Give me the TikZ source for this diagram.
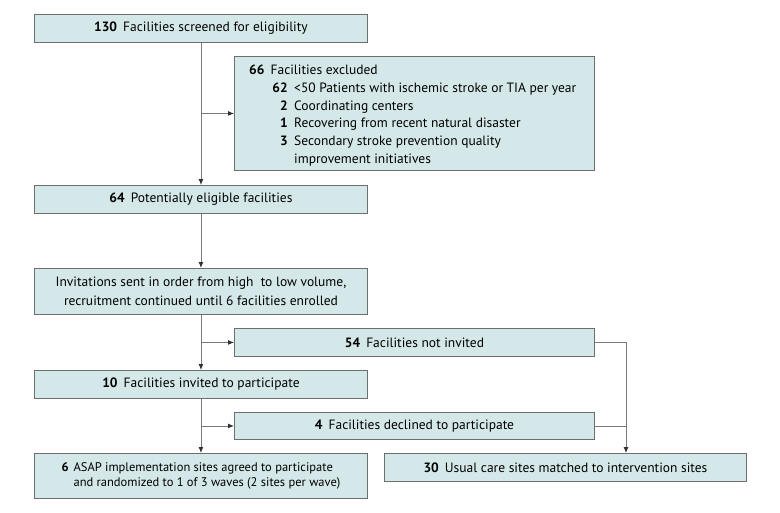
\documentclass[tikz,border=0pt]{standalone}
\usepackage{fontspec}
\setmainfont{PT Sans}
\usetikzlibrary{arrows.meta}
\definecolor{boxfill}{HTML}{D5E8E9}
\definecolor{boxdraw}{HTML}{6E6E6E}
\definecolor{linecol}{HTML}{7A7A7A}
\definecolor{tipcol}{HTML}{303030}
\newcommand{\numgap}{\hspace{0.45em}}
\begin{document}
\begin{tikzpicture}[x=1pt,y=-1pt,
  box/.style={draw=boxdraw, fill=boxfill, line width=0.9pt, inner sep=0pt, anchor=north west,
              font=\fontsize{13.5}{19}\selectfont},
  txt/.style={inner sep=0pt, font=\fontsize{13.5}{17.8}\selectfont},
  conn/.style={draw=linecol, line width=0.9pt},
  arr/.style={conn, -{Latex[length=6pt,width=5pt,color=tipcol]}}]
\useasboundingbox (0,0) rectangle (780,512);

% boxes
\node[box, minimum width=333pt, minimum height=28pt] (b130) at (34,14)
  {\textbf{130}\numgap Facilities screened for eligibility};
\node[box, minimum width=360pt, minimum height=114pt] (excl) at (234,56) {};
\node[box, minimum width=333pt, minimum height=28pt] (b64) at (34,185)
  {\textbf{64}\numgap Potentially eligible facilities};
\node[box, minimum width=333pt, minimum height=46pt, align=center] (inv) at (34,268)
  {Invitations sent in order from high\ \ to low volume,\\recruitment continued until 6 facilities enrolled};
\node[box, minimum width=360pt, minimum height=28pt] (b54) at (234,328)
  {\textbf{54}\numgap Facilities not invited};
\node[box, minimum width=333pt, minimum height=28pt] (b10) at (34,370)
  {\textbf{10}\numgap Facilities invited to participate};
\node[box, minimum width=360pt, minimum height=27pt] (b4) at (234,412)
  {\textbf{4}\numgap Facilities declined to participate};
\node[box, minimum width=333pt, minimum height=45pt, align=left,
      font=\fontsize{12.5}{15}\selectfont] (b6) at (34,453)
  {\textbf{6}\hspace{0.4em}ASAP implementation sites agreed to participate\\
   \phantom{\textbf{6}\hspace{0.4em}}and randomized to 1 of 3 waves (2 sites per wave)};
\node[box, minimum width=362pt, minimum height=28pt] (b30) at (384,453)
  {\textbf{30}\numgap Usual care sites matched to intervention sites};

% exclusion list
\node[txt, anchor=base west] (e0) at (249,74.5) {\textbf{66}\numgap Facilities excluded};
\node[txt, anchor=base east] (e1n) at (288,92.3) {\textbf{62}};
\node[txt, anchor=base west] (e1t) at (294,92.3) {<50 Patients with ischemic stroke or TIA per year};
\node[txt, anchor=base east] (e2n) at (288,110.1) {\textbf{2}};
\node[txt, anchor=base west] (e2t) at (294,110.1) {Coordinating centers};
\node[txt, anchor=base east] (e3n) at (288,127.9) {\textbf{1}};
\node[txt, anchor=base west] (e3t) at (294,127.9) {Recovering from recent natural disaster};
\node[txt, anchor=base east] (e4n) at (288,145.7) {\textbf{3}};
\node[txt, anchor=base west] (e4t) at (294,145.7) {Secondary stroke prevention quality};
\node[txt, anchor=base west] (e5t) at (294,163.5) {improvement initiatives};

% connectors
\coordinate (rc) at (626,0);
\draw[arr] (b130.south) -- (b64.north);
\draw[arr] (b130.south |- excl.west) -- (excl.west);
\draw[arr] (b64.south) -- (inv.north);
\draw[arr] (inv.south) -- (b10.north);
\draw[arr] (inv.south |- b54.west) -- (b54.west);
\draw[arr] (b10.south) -- (b6.north);
\draw[arr] (b10.south |- b4.west) -- (b4.west);
\draw[arr] (b54.east) -| (rc |- b30.north);
\draw[conn] (b4.east) -- (rc |- b4.east);
\end{tikzpicture}
\end{document}
